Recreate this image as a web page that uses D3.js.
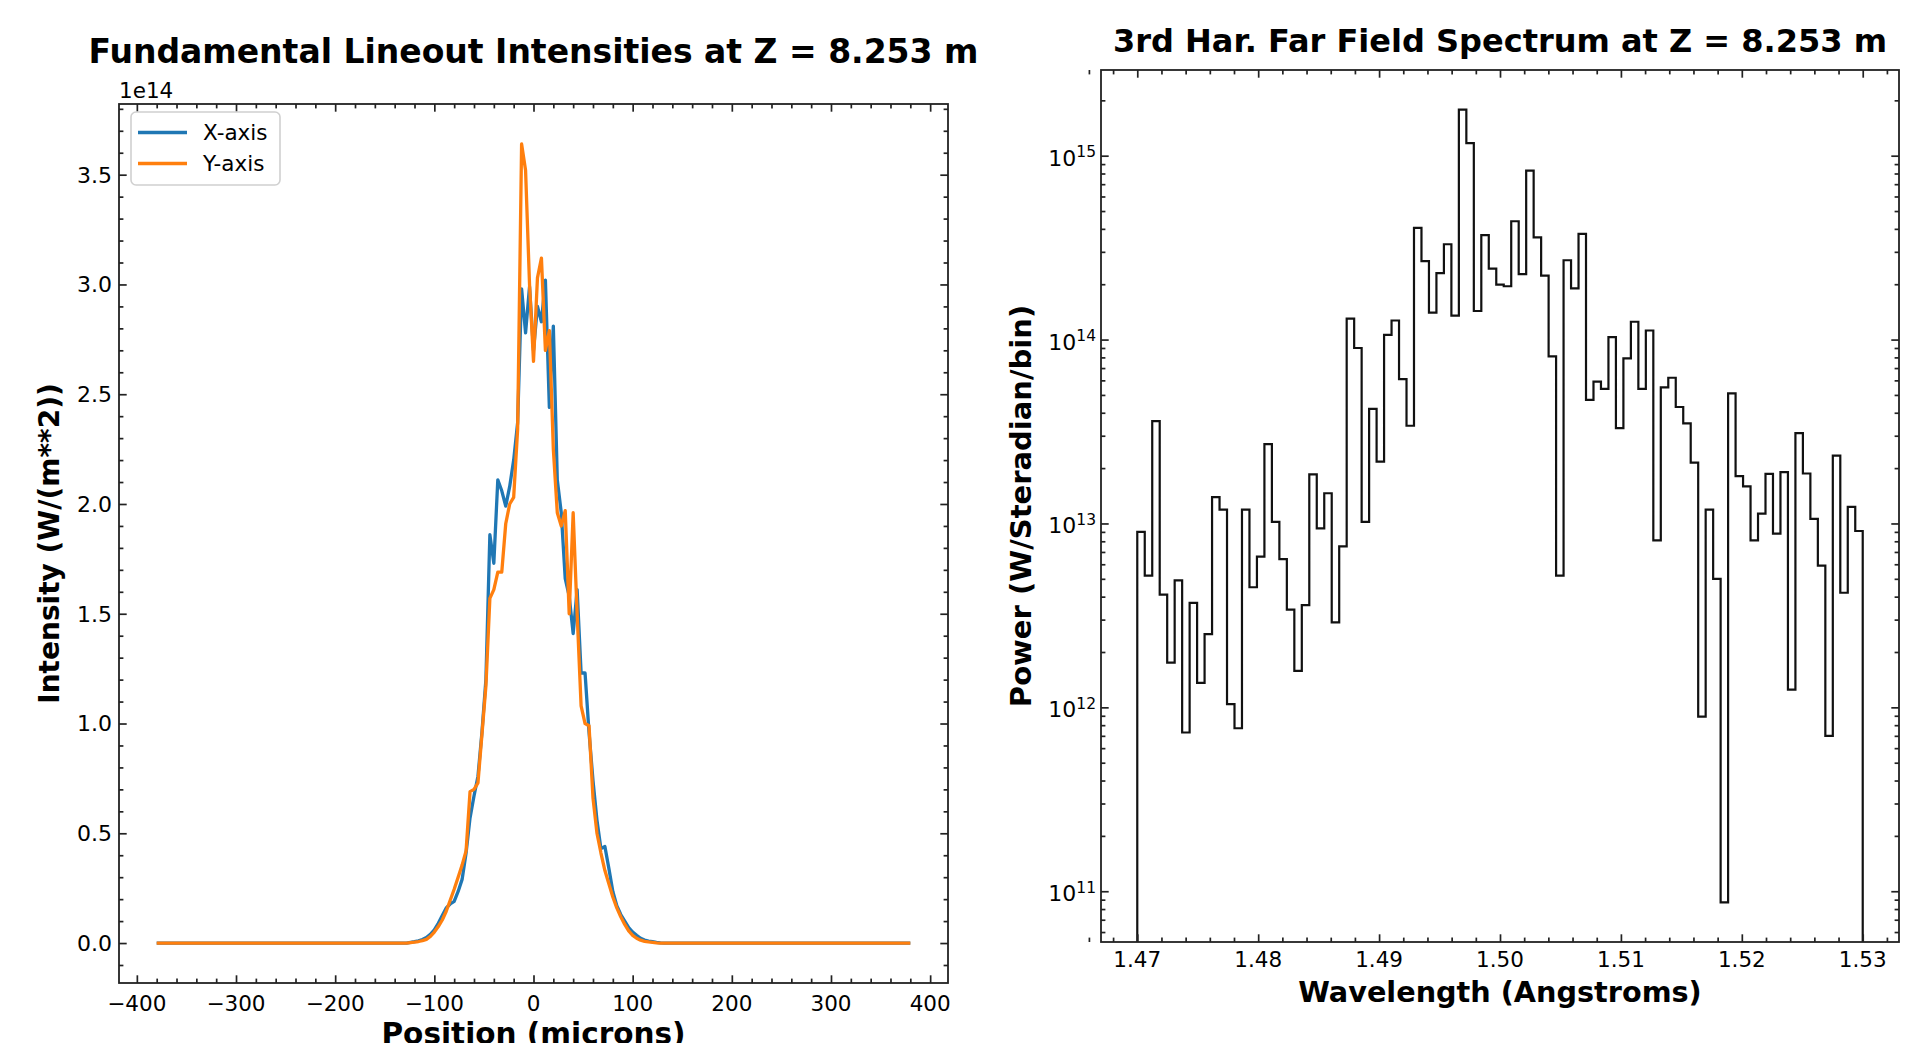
<!DOCTYPE html>
<html>
<head>
<meta charset="utf-8">
<script src="https://cdn.jsdelivr.net/npm/d3@7"></script>
<style>
  body { margin: 0; background: #fff; }
  text { font-family: "DejaVu Sans", sans-serif; fill: #000; }
</style>
</head>
<body>
<svg id="fig" width="1908" height="1043"></svg>
<script>
// lineout positions (microns) and intensities (units of 1e14 W/m^2)
var posMicrons = [-380, -128, -124, -120, -116, -112, -108, -104, -100, -96, -92, -88, -84, -80, -76, -72, -68, -64, -60, -56,
  -52, -48, -44, -40, -36, -32, -28, -24, -20, -16, -12, -8, -4, 0, 4, 8, 12, 16, 20, 24,
  28, 32, 36, 40, 44, 48, 52, 56, 60, 64, 68, 72, 76, 80, 84, 88, 92, 96, 100, 104,
  108, 112, 116, 120, 124, 128, 132, 380];

var xAxisIntensity = [0, 0, 0.003, 0.006, 0.01, 0.016, 0.025, 0.04, 0.06, 0.09, 0.125, 0.16, 0.178, 0.19, 0.235, 0.29, 0.41, 0.57, 0.67, 0.76,
  0.96, 1.20, 1.86, 1.73, 2.11, 2.06, 1.99, 2.08, 2.20, 2.37, 2.98, 2.78, 2.99, 2.70, 2.90, 2.83, 3.02, 2.44, 2.81, 2.11,
  1.96, 1.66, 1.58, 1.41, 1.61, 1.23, 1.23, 0.96, 0.74, 0.56, 0.43, 0.44, 0.34, 0.235, 0.17, 0.13, 0.10, 0.07, 0.05, 0.035,
  0.022, 0.014, 0.009, 0.006, 0.003, 0.001, 0, 0];

var yAxisIntensity = [0, 0, 0.002, 0.004, 0.007, 0.011, 0.017, 0.03, 0.05, 0.075, 0.105, 0.145, 0.195, 0.245, 0.30, 0.355, 0.42, 0.69, 0.70, 0.73,
  0.95, 1.17, 1.57, 1.61, 1.69, 1.69, 1.91, 2.00, 2.03, 2.34, 3.64, 3.52, 3.00, 2.65, 3.03, 3.12, 2.70, 2.79, 2.25, 1.96,
  1.90, 1.97, 1.50, 1.96, 1.50, 1.08, 1.00, 0.99, 0.66, 0.50, 0.41, 0.33, 0.27, 0.21, 0.16, 0.12, 0.085, 0.055, 0.035, 0.022,
  0.013, 0.008, 0.005, 0.003, 0.001, 0, 0, 0];

var lineoutNames = ["X-axis", "Y-axis"];
var lineoutColors = ["#1f77b4", "#ff7f0e"];

// far field spectrum, 97 bins between 1.47 and 1.53 Angstroms (W/Steradian/bin)
var specRange = [1.47, 1.53];
var specPower = [9.0e12, 5.2e12, 3.6e13, 4.1e12, 1.75e12, 4.9e12, 7.3e11, 3.7e12, 1.36e12, 2.5e12,
  1.39e13, 1.19e13, 1.04e12, 7.7e11, 1.19e13, 4.5e12, 6.6e12, 2.7e13, 1.02e13, 6.4e12,
  3.4e12, 1.58e12, 3.6e12, 1.85e13, 9.4e12, 1.46e13, 2.9e12, 7.5e12, 1.30e14, 9.0e13,
  1.02e13, 4.2e13, 2.17e13, 1.06e14, 1.27e14, 6.1e13, 3.4e13, 4.05e14, 2.67e14, 1.40e14,
  2.3e14, 3.3e14, 1.35e14, 1.78e15, 1.17e15, 1.43e14, 3.7e14, 2.43e14, 1.99e14, 1.95e14,
  4.4e14, 2.27e14, 8.3e14, 3.6e14, 2.23e14, 8.1e13, 5.2e12, 2.7e14, 1.9e14, 3.76e14,
  4.7e13, 5.9e13, 5.4e13, 1.03e14, 3.3e13, 7.9e13, 1.25e14, 5.4e13, 1.12e14, 8.1e12,
  5.5e13, 6.2e13, 4.3e13, 3.5e13, 2.14e13, 8.9e11, 1.19e13, 5.0e12, 8.7e10, 5.1e13,
  1.81e13, 1.59e13, 8.1e12, 1.13e13, 1.86e13, 8.8e12, 1.9e13, 1.25e12, 3.1e13, 1.87e13,
  1.06e13, 5.9e12, 7.0e11, 2.34e13, 4.2e12, 1.23e13, 9.1e12];

var lineoutTicksX = [-400, -300, -200, -100, 0, 100, 200, 300, 400];
var lineoutTicksY = [0, 0.5, 1.0, 1.5, 2.0, 2.5, 3.0, 3.5];
var specTicksX = [1.47, 1.48, 1.49, 1.50, 1.51, 1.52, 1.53];
var specTicksY = [1e11, 1e12, 1e13, 1e14, 1e15];

var svg = d3.select("#fig");
var majorLen = 7.7, minorLen = 4.4, tickW = 1.7, tickFont = 21.5;

function pad5(e) { var d = (e[1] - e[0]) * 0.05; return [e[0] - d, e[1] + d]; }

// ticks on all four sides, pointing in
function drawTicks(g, x, y, box, xMajor, xMinor, yMajor, yMinor) {
  var sides = [
    [d3.axisBottom(x), "translate(0," + box.b + ")", xMajor, xMinor],
    [d3.axisTop(x), "translate(0," + box.t + ")", xMajor, xMinor],
    [d3.axisLeft(y), "translate(" + box.l + ",0)", yMajor, yMinor],
    [d3.axisRight(y), "translate(" + box.r + ",0)", yMajor, yMinor]
  ];
  sides.forEach(function(s) {
    [[s[2], majorLen], [s[3], minorLen]].forEach(function(t) {
      var ax = s[0].tickValues(t[0]).tickSize(-t[1]).tickFormat("");
      var a = g.append("g").attr("transform", s[1]).call(ax);
      a.select(".domain").remove();
      a.selectAll("line").attr("stroke", "#222").attr("stroke-width", tickW);
      a.selectAll("text").remove();
    });
  });
  g.append("rect")
    .attr("x", box.l).attr("y", box.t)
    .attr("width", box.r - box.l).attr("height", box.b - box.t)
    .attr("fill", "none").attr("stroke", "#222").attr("stroke-width", 1.8);
}

// ---------- left: lineouts ----------
var L = {l: 119, r: 948, t: 104, b: 983};
var gl = svg.append("g");

var xl = d3.scaleLinear().domain(pad5(d3.extent(posMicrons))).range([L.l, L.r]);
var allI = xAxisIntensity.concat(yAxisIntensity);
var yl = d3.scaleLinear().domain(pad5([d3.min(allI), d3.max(allI)])).range([L.b, L.t]);

var line = d3.line()
  .x(function(d) { return xl(d[0]); })
  .y(function(d) { return yl(d[1]); });

[xAxisIntensity, yAxisIntensity].forEach(function(series, k) {
  gl.append("path")
    .datum(posMicrons.map(function(p, i) { return [p, series[i]]; }))
    .attr("d", line)
    .attr("fill", "none")
    .attr("stroke", lineoutColors[k])
    .attr("stroke-width", 3.3)
    .attr("stroke-linejoin", "round");
});

var lxMinor = d3.range(-400, 401, 20).filter(function(v) { return v % 100 != 0; });
var lyMinor = d3.range(-1, 39).map(function(v) { return v / 10; }).filter(function(v) { return Math.round(v * 10) % 5 != 0; });
drawTicks(gl, xl, yl, L, lineoutTicksX, lxMinor, lineoutTicksY, lyMinor);

gl.selectAll(".xlab").data(lineoutTicksX).enter().append("text")
  .attr("x", function(d) { return xl(d); })
  .attr("y", L.b + 12 + 15.7)
  .attr("text-anchor", "middle")
  .style("font-size", tickFont + "px")
  .text(function(d) { return d < 0 ? "\u2212" + Math.abs(d) : d; });

gl.selectAll(".ylab").data(lineoutTicksY).enter().append("text")
  .attr("x", L.l - 7)
  .attr("y", function(d) { return yl(d); })
  .attr("dy", "0.36em")
  .attr("text-anchor", "end")
  .style("font-size", "22px")
  .text(d3.format(".1f"));

gl.append("text").attr("x", L.l).attr("y", 98)
  .style("font-size", tickFont + "px").text("1e14");

gl.append("text").attr("x", (L.l + L.r) / 2).attr("y", 63)
  .attr("text-anchor", "middle")
  .style("font-size", "33px").style("font-weight", "bold")
  .text("Fundamental Lineout Intensities at Z = 8.253 m");

gl.append("text").attr("x", (L.l + L.r) / 2).attr("y", 1044)
  .attr("text-anchor", "middle")
  .style("font-size", "29.5px").style("font-weight", "bold")
  .text("Position (microns)");

gl.append("text")
  .attr("transform", "translate(59," + (L.t + L.b) / 2 + ") rotate(-90)")
  .attr("text-anchor", "middle")
  .style("font-size", "28px").style("font-weight", "bold")
  .text("Intensity (W/(m**2))");

// legend
var leg = gl.append("g");
leg.append("rect")
  .attr("x", 131).attr("y", 112).attr("width", 149).attr("height", 73).attr("rx", 5)
  .attr("fill", "#fff").attr("fill-opacity", 0.8)
  .attr("stroke", "#d0d0d0").attr("stroke-width", 1.6);
lineoutNames.forEach(function(n, k) {
  var yy = 132.5 + k * 31;
  leg.append("line").attr("x1", 138).attr("x2", 187).attr("y1", yy).attr("y2", yy)
    .attr("stroke", lineoutColors[k]).attr("stroke-width", 3.3);
  leg.append("text").attr("x", 203).attr("y", yy).attr("dy", "0.36em")
    .style("font-size", tickFont + "px").text(n);
});

// ---------- right: spectrum ----------
var R = {l: 1101, r: 1899, t: 70, b: 942};
var gr = svg.append("g");

var xr = d3.scaleLinear().domain(pad5(specRange)).range([R.l, R.r]);
var logExt = pad5([Math.log10(d3.min(specPower)), Math.log10(d3.max(specPower))]);
var yr = d3.scaleLog().domain([Math.pow(10, logExt[0]), Math.pow(10, logExt[1])]).range([R.b, R.t]);

var nb = specPower.length;
var edge = function(i) { return specRange[0] + (specRange[1] - specRange[0]) * i / nb; };
var stepPts = [[edge(0), yr.domain()[0]]];
specPower.forEach(function(v, i) { stepPts.push([edge(i), v]); stepPts.push([edge(i + 1), v]); });
stepPts.push([edge(nb), yr.domain()[0]]);

gr.append("clipPath").attr("id", "specClip").append("rect")
  .attr("x", R.l).attr("y", R.t).attr("width", R.r - R.l).attr("height", R.b - R.t);

gr.append("path")
  .datum(stepPts)
  .attr("clip-path", "url(#specClip)")
  .attr("d", d3.line().x(function(d) { return xr(d[0]); }).y(function(d) { return yr(d[1]); }))
  .attr("fill", "none")
  .attr("stroke", "#111")
  .attr("stroke-width", 2.2);

var rxMinor = d3.range(733, 767).map(function(v) { return v * 0.002; })
  .filter(function(v) { return Math.round(v * 1000) % 10 != 0; });
var ryMinor = [];
for (var e = 10; e <= 15; e++) for (var m = 2; m <= 9; m++) {
  var v = m * Math.pow(10, e);
  if (v > yr.domain()[0] && v < yr.domain()[1]) ryMinor.push(v);
}
drawTicks(gr, xr, yr, R, specTicksX, rxMinor, specTicksY, ryMinor);

gr.selectAll(".xlab").data(specTicksX).enter().append("text")
  .attr("x", function(d) { return xr(d); })
  .attr("y", R.b + 10 + 15.3)
  .attr("text-anchor", "middle")
  .style("font-size", tickFont + "px")
  .text(d3.format(".2f"));

var yt = gr.selectAll(".ylab").data(specTicksY).enter().append("text")
  .attr("x", R.l - 5)
  .attr("y", function(d) { return yr(d) + 10; })
  .attr("text-anchor", "end")
  .style("font-size", "22px");
yt.append("tspan").text("10");
yt.append("tspan").attr("dy", -8.5).style("font-size", "15.5px")
  .text(function(d) { return Math.round(Math.log10(d)); });

gr.append("text").attr("x", (R.l + R.r) / 2).attr("y", 52)
  .attr("text-anchor", "middle")
  .style("font-size", "32px").style("font-weight", "bold")
  .text("3rd Har. Far Field Spectrum at Z = 8.253 m");

gr.append("text").attr("x", (R.l + R.r) / 2).attr("y", 1002)
  .attr("text-anchor", "middle")
  .style("font-size", "28.7px").style("font-weight", "bold")
  .text("Wavelength (Angstroms)");

gr.append("text")
  .attr("transform", "translate(1031," + (R.t + R.b) / 2 + ") rotate(-90)")
  .attr("text-anchor", "middle")
  .style("font-size", "29px").style("font-weight", "bold")
  .text("Power (W/Steradian/bin)");
</script>
</body>
</html>
